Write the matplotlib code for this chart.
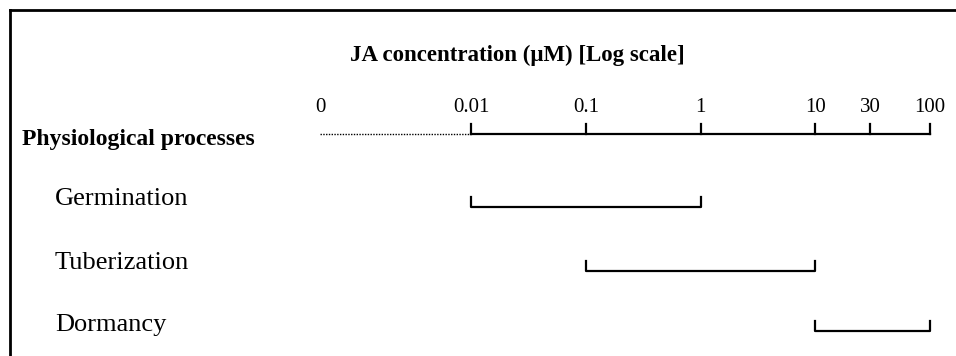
import numpy as np
import matplotlib.pyplot as plt
from matplotlib.lines import Line2D

# data
tick_values = [0.01, 0.1, 1, 10, 30, 100]
tick_labels = ["0.01", "0.1", "1", "10", "30", "100"]
processes = ["Germination", "Tuberization", "Dormancy"]
range_low = [0.01, 0.1, 10]
range_high = [1, 10, 100]

plt.rcParams['font.family'] = ['Liberation Serif', 'DejaVu Serif']

W, H = 956, 356
fig = plt.figure(figsize=(W / 100, H / 100), dpi=100)
ax = fig.add_axes([0, 0, 1, 1])
ax.set_xscale('log')
# 0.01 sits at x=471 px, 100 at x=930 px
dec = (930 - 471) / 4
ax.set_xlim(10 ** (-2 - 471 / dec), 10 ** (-2 + (W - 471) / dec))
ax.set_ylim(H, 0)   # y in pixels from top
ax.axis('off')

zero_x = 10 ** (-2 - 151 / dec)   # where "0" is drawn (not a real log value)
ytr = ax.get_yaxis_transform()   # x in axes fraction, y in pixels

# frame (top and left only, cut off at the image edges)
fig.add_artist(Line2D([10 / W, 1], [1 - 10 / H, 1 - 10 / H], color='black', lw=2))
fig.add_artist(Line2D([10 / W, 10 / W], [1 - 10 / H, 0], color='black', lw=2))

ax.text(517 / W, 55, "JA concentration (\u03bcM) [Log scale]", transform=ytr,
        ha='center', va='center', fontsize=16.5, fontweight='bold')

# main axis
axis_y = 134
tick_h = 10
ax.plot([zero_x, tick_values[0]], [axis_y, axis_y], color='black', lw=1, ls=(0, (1, 1)))
ax.plot([tick_values[0], tick_values[-1]], [axis_y, axis_y], color='black', lw=1.6)
for v, lab in zip(tick_values, tick_labels):
    ax.plot([v, v], [axis_y, axis_y - tick_h], color='black', lw=1.6)
    ax.text(v, 107, lab, ha='center', va='center', fontsize=15)
ax.text(zero_x, 107, "0", ha='center', va='center', fontsize=15)

ax.text(22 / W, 140, "Physiological processes", transform=ytr,
        ha='left', va='center', fontsize=17, fontweight='bold')

# ranges for each process
row_y = [207, 271, 331]
text_y = [199, 263, 325]
for name, lo, hi, ry, ty in zip(processes, range_low, range_high, row_y, text_y):
    ax.text(55 / W, ty, name, transform=ytr, ha='left', va='center', fontsize=19)
    ax.plot([lo, lo, hi, hi], [ry - tick_h, ry, ry, ry - tick_h], color='black', lw=1.6)

fig.savefig("out.png", dpi=100)
